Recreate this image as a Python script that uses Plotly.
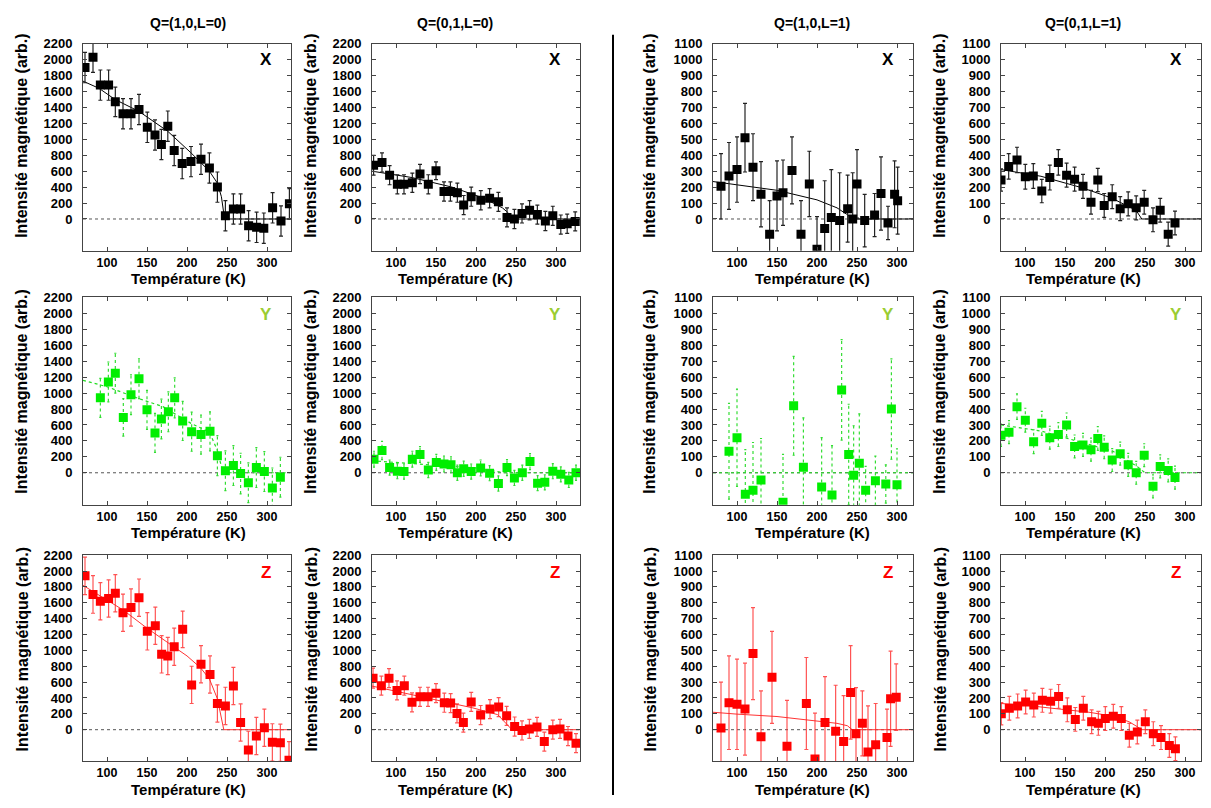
import plotly.graph_objects as go

W, H = 1211, 808

# ---------------- data ----------------
# Q=(1,0,L=0)
T_10L0_X = [72.5, 82.5, 91.7, 102, 110.4, 120, 130, 140, 150.4, 160, 168, 176, 184, 194, 205, 217.5, 228, 238, 248, 258, 267, 277, 287, 296, 307, 317.5, 328]
I_10L0_X = [1900, 2030, 1680, 1680, 1470, 1320, 1320, 1375, 1150, 1055, 935, 1165, 860, 695, 720, 750, 640, 400, 40, 125, 125, -85, -105, -115, 140, -25, 190]
E_10L0_X = [190, 190, 190, 190, 185, 190, 190, 190, 190, 190, 190, 190, 190, 190, 190, 190, 190, 190, 190, 190, 190, 190, 190, 190, 190, 190, 190]
FT_10L0_X = [70, 90, 110, 140, 176, 205, 228, 238, 243, 247, 330]
FI_10L0_X = [1730, 1640, 1500, 1350, 1100, 830, 600, 450, 280, 0, 0]

T_10L0_Y = [91.7, 101.7, 110.4, 120.4, 130, 140, 150, 160, 168, 176.7, 184.6, 194.6, 205.8, 217.5, 228.75, 238, 248, 258, 267, 276.7, 286.7, 296.7, 306.7, 316.7]
I_10L0_Y = [940, 1140, 1250, 695, 980, 1180, 790, 500, 675, 765, 940, 650, 515, 480, 520, 215, 25, 90, -10, -125, 65, 15, -190, -55]
E_10L0_Y = [245, 250, 250, 235, 250, 250, 245, 245, 250, 250, 250, 245, 245, 245, 245, 250, 250, 250, 255, 250, 250, 250, 250, 250]
FT_10L0_Y = [70, 100, 140, 170, 205, 228, 238, 245, 330]
FI_10L0_Y = [1160, 1080, 930, 830, 620, 510, 280, 0, 0]

T_10L0_Z = [72.5, 82.5, 91.7, 102, 110.4, 120, 130, 140, 150.4, 160.4, 168.3, 176, 184, 194.6, 205.8, 217.5, 228.75, 238, 248, 258, 267, 276.7, 286.7, 296.7, 306.7, 316.7, 327.5]
I_10L0_Z = [1940, 1705, 1620, 1655, 1720, 1475, 1540, 1665, 1240, 1310, 950, 930, 1045, 1265, 565, 825, 695, 330, 300, 550, 90, -255, -80, 25, -160, -165, -385]
E_10L0_Z = [237, 237, 235, 235, 235, 235, 235, 235, 235, 235, 235, 235, 235, 230, 235, 235, 235, 235, 235, 235, 235, 235, 235, 235, 235, 235, 235]
FT_10L0_Z = [70, 120, 150, 175, 200, 217, 228, 238, 242, 246, 330]
FI_10L0_Z = [1820, 1510, 1280, 1100, 930, 780, 640, 390, 180, 0, 0]

# Q=(0,1,L=0)
T_01L0_X = [72, 82.5, 92, 101.7, 110, 120.4, 130, 140.4, 150, 160, 168, 176.7, 184.6, 194, 206, 217, 228, 238.75, 248, 257.5, 267, 276.7, 286.7, 296, 306, 314, 324]
I_01L0_X = [675, 710, 550, 435, 435, 455, 565, 435, 605, 345, 345, 330, 175, 280, 235, 260, 215, 20, 0, 70, 110, 55, -25, 40, -70, -60, -30]
E_01L0_X = [125, 120, 120, 120, 120, 120, 120, 120, 112, 120, 120, 120, 120, 120, 120, 120, 120, 120, 120, 120, 120, 120, 120, 120, 120, 120, 120]
FT_01L0_X = [70, 120, 170, 210, 233, 240, 245, 330]
FI_01L0_X = [600, 520, 400, 260, 140, 80, 0, 0]

T_01L0_Y = [72.5, 82.5, 92, 101.7, 110, 120.4, 130, 140.4, 150.4, 160, 168.75, 176.7, 184.6, 194, 205.8, 217, 228, 238.75, 248, 257.9, 267.5, 277, 286, 296, 306, 316, 325]
I_01L0_Y = [170, 280, 65, 20, 15, 170, 230, 35, 130, 110, 100, 0, 50, 15, 60, -5, -135, 65, -65, 0, 140, -130, -120, 20, -20, -90, 0]
E_01L0_Y = [100, 115, 95, 95, 95, 100, 100, 95, 100, 100, 100, 95, 95, 95, 100, 95, 95, 100, 95, 95, 100, 95, 95, 95, 95, 95, 95]
FT_01L0_Y = [70, 150, 200, 235, 330]
FI_01L0_Y = [150, 100, 60, 0, 0]

T_01L0_Z = [71.3, 81.7, 91.25, 101.25, 110.4, 120, 130, 140, 150, 160.4, 168.3, 176.25, 184.2, 194, 205.8, 217.5, 228.3, 238.3, 248.3, 257.5, 266.7, 276.25, 285.4, 296, 305, 315, 325]
I_01L0_Z = [650, 555, 650, 495, 555, 345, 415, 415, 460, 340, 335, 205, 90, 350, 185, 260, 285, 175, 40, -10, 10, 35, -150, 0, 10, -80, -170]
E_01L0_Z = [125, 120, 120, 120, 120, 120, 120, 120, 120, 120, 120, 120, 120, 120, 120, 120, 120, 120, 120, 120, 120, 120, 120, 120, 120, 120, 120]
FT_01L0_Z = [70, 110, 150, 196, 227, 240, 245, 330]
FI_01L0_Z = [550, 465, 380, 275, 190, 60, 0, 0]

# Q=(1,0,L=1)
T_10L1_X = [80, 90, 100, 110, 120, 130, 140.8, 150, 157.5, 168.75, 180, 190.4, 200, 209.6, 217.9, 228.3, 238.3, 244.6, 250, 259.6, 272, 280, 288.75, 297, 300.8]
I_10L1_X = [205, 270, 310, 510, 325, 155, -95, 145, 165, 305, -95, 220, -190, -60, 10, -10, 65, 0, 220, -10, 25, 160, -25, 155, 115]
E_10L1_X = [205, 210, 205, 215, 210, 205, 210, 220, 205, 210, 210, 205, 205, 300, 300, 300, 210, 290, 215, 165, 135, 230, 105, 210, 210]
FT_10L1_X = [70, 100, 150, 200, 225, 237, 245, 320]
FI_10L1_X = [235, 215, 180, 120, 70, 30, 0, 0]

T_10L1_Y = [90, 100, 110.4, 120, 130, 157.5, 170.8, 183, 205.8, 218.75, 230.8, 239.6, 245.8, 252.9, 260.8, 273, 286, 293, 300]
I_10L1_Y = [135, 220, -135, -110, -45, -185, 420, 35, -90, -140, 520, 115, -15, 60, -110, -50, -70, 400, -75]
E_10L1_Y = [300, 305, 280, 300, 260, 300, 310, 310, 310, 310, 315, 315, 310, 310, 150, 155, 120, 315, 225]
FT_10L1_Y = [70, 320]
FI_10L1_Y = [0, 0]

T_10L1_Z = [80, 90, 100, 110, 120, 130, 143.75, 162.5, 186.7, 197.5, 210, 223.3, 233.3, 242, 248.75, 256.7, 263.75, 273.3, 287.5, 292, 299]
I_10L1_Z = [10, 170, 160, 130, 480, -45, 330, -105, 165, -185, 45, -10, -75, 235, -25, 40, -140, -95, -50, 195, 205]
E_10L1_Z = [290, 295, 285, 290, 290, 290, 290, 290, 290, 290, 290, 290, 290, 295, 290, 205, 290, 260, 180, 300, 210]
FT_10L1_Z = [70, 100, 150, 200, 225, 238, 244, 320]
FI_10L1_Z = [110, 98, 83, 56, 40, 25, 0, 0]

# Q=(0,1,L=1)
T_01L1_X = [70, 79.6, 90, 100.4, 110.4, 121, 131, 141.7, 152, 162, 172.5, 182.5, 191, 199, 209, 219, 229, 239, 249, 260, 269, 279, 287.5]
I_01L1_X = [245, 330, 370, 265, 270, 175, 260, 355, 275, 250, 205, 105, 245, 85, 140, 65, 95, 70, 105, -5, 55, -95, -25]
E_01L1_X = [70, 80, 80, 78, 78, 73, 78, 80, 75, 75, 75, 75, 73, 75, 75, 75, 75, 75, 75, 75, 75, 75, 75]
FT_01L1_X = [70, 120, 172, 208, 233, 240, 246, 320]
FI_01L1_X = [310, 268, 195, 132, 69, 45, 0, 0]

T_01L1_Y = [70, 80, 90, 100.4, 110.8, 121, 131, 141.7, 152, 162, 172.5, 182.5, 191, 199, 209, 219, 229, 239, 249, 260, 269, 279, 287.5]
I_01L1_Y = [235, 255, 415, 330, 195, 310, 220, 240, 300, 165, 175, 145, 215, 160, 80, 120, 50, 0, 110, -85, 40, 15, -30]
E_01L1_Y = [70, 72, 80, 75, 75, 75, 72, 75, 75, 72, 72, 72, 75, 72, 72, 72, 72, 72, 72, 72, 72, 72, 72]
FT_01L1_Y = [70, 120, 170, 210, 240, 250, 320]
FI_01L1_Y = [300, 262, 192, 135, 40, 0, 0]

T_01L1_Z = [70.4, 80.4, 90.8, 100.8, 111, 121.7, 132, 142, 152.9, 162.9, 172.9, 183.3, 191.7, 200.4, 210.4, 220.4, 230.4, 240.4, 250.4, 260.4, 270, 280.4, 288]
I_01L1_Z = [100, 135, 150, 175, 155, 185, 180, 210, 125, 65, 135, 50, 40, 70, 85, 70, -35, -15, 50, -25, -50, -100, -120]
E_01L1_Z = [70, 75, 75, 75, 75, 75, 75, 75, 75, 75, 75, 75, 75, 75, 75, 75, 75, 75, 75, 75, 75, 75, 75]
FT_01L1_Z = [70, 100, 125, 150, 180, 210, 230, 240, 246, 320]
FI_01L1_Z = [165, 155, 140, 128, 110, 85, 50, 20, 0, 0]

col_titles = ["Q=(1,0,L=0)", "Q=(0,1,L=0)", "Q=(1,0,L=1)", "Q=(0,1,L=1)"]
comp_labels = ["X", "Y", "Z"]
x_ticks = [100, 150, 200, 250, 300]
y_ticks_L0 = [0, 200, 400, 600, 800, 1000, 1200, 1400, 1600, 1800, 2000, 2200]
y_ticks_L1 = [0, 100, 200, 300, 400, 500, 600, 700, 800, 900, 1000, 1100]

panels = {
    (0, 0): (T_10L0_X, I_10L0_X, E_10L0_X, FT_10L0_X, FI_10L0_X),
    (1, 0): (T_10L0_Y, I_10L0_Y, E_10L0_Y, FT_10L0_Y, FI_10L0_Y),
    (2, 0): (T_10L0_Z, I_10L0_Z, E_10L0_Z, FT_10L0_Z, FI_10L0_Z),
    (0, 1): (T_01L0_X, I_01L0_X, E_01L0_X, FT_01L0_X, FI_01L0_X),
    (1, 1): (T_01L0_Y, I_01L0_Y, E_01L0_Y, FT_01L0_Y, FI_01L0_Y),
    (2, 1): (T_01L0_Z, I_01L0_Z, E_01L0_Z, FT_01L0_Z, FI_01L0_Z),
    (0, 2): (T_10L1_X, I_10L1_X, E_10L1_X, FT_10L1_X, FI_10L1_X),
    (1, 2): (T_10L1_Y, I_10L1_Y, E_10L1_Y, FT_10L1_Y, FI_10L1_Y),
    (2, 2): (T_10L1_Z, I_10L1_Z, E_10L1_Z, FT_10L1_Z, FI_10L1_Z),
    (0, 3): (T_01L1_X, I_01L1_X, E_01L1_X, FT_01L1_X, FI_01L1_X),
    (1, 3): (T_01L1_Y, I_01L1_Y, E_01L1_Y, FT_01L1_Y, FI_01L1_Y),
    (2, 3): (T_01L1_Z, I_01L1_Z, E_01L1_Z, FT_01L1_Z, FI_01L1_Z),
}

# ---------------- layout geometry (pixels) ----------------
cols_px = [(83, 291), (372, 580), (713, 913), (1001, 1201)]
rows_px = [(37, 246), (293, 502), (553, 761)]
x_ranges = [[70, 330], [70, 330], [70, 320], [70, 320]]
y_ranges = [[-400, 2200], [-400, 2200], [-200, 1100], [-200, 1100]]
title_cx = [188, 455, 812, 1083]
ytitle_x = [22, 311, 650, 940]
ytitle_y = [130, 388, 648]
xtitle_y = [274, 530, 789]
comp_pos_y = [53, 310, 570]
comp_colors = ["#000000", "#9ACD32", "#FF0000"]

mark_col = {0: "#000000", 1: "#00EE00", 2: "#FF0000"}
err_col = {0: "#222222", 1: "#33DD33", 2: "rgba(255,40,40,0.8)"}
fit_style = {0: dict(color="#000000", width=1, dash="solid"),
             1: dict(color="#22DD22", width=1.2, dash="dot"),
             2: dict(color="#FF3333", width=1, dash="solid")}

FONT = "Liberation Sans, Arial, sans-serif"


def px2fx(p):
    return p / W


def px2fy(p):
    return 1 - p / H


def ann(text, px, py, size, color="black", angle=0):
    return dict(text=text, x=px2fx(px), y=px2fy(py), xref="paper", yref="paper",
                xanchor="center", yanchor="middle", showarrow=False, textangle=angle,
                font=dict(family=FONT, size=size, color=color, weight="bold"))


fig = go.Figure()
layout = dict(width=W, height=H, margin=dict(l=0, r=0, t=0, b=0, pad=0), autosize=False,
              paper_bgcolor="white", plot_bgcolor="white", showlegend=False,
              font=dict(family=FONT, color="black"))
annotations = []
shapes = []

idx = 0
for r in range(3):
    for c in range(4):
        idx += 1
        xa = "x" if idx == 1 else f"x{idx}"
        ya = "y" if idx == 1 else f"y{idx}"
        T, I, E, FT, FI = panels[(r, c)]
        # zero reference line
        fig.add_trace(go.Scatter(x=[x_ranges[c][0], x_ranges[c][1]], y=[0, 0], mode="lines",
                                 line=dict(color="#555555", width=1, dash="dot"),
                                 xaxis=xa, yaxis=ya, hoverinfo="skip"))
        # fit
        fig.add_trace(go.Scatter(x=FT, y=FI, mode="lines", line=fit_style[r],
                                 xaxis=xa, yaxis=ya, hoverinfo="skip"))
        if r == 1:
            # dotted error bars built from the data arrays
            cap = 1.3
            ex, ey = [], []
            for t, v, e in zip(T, I, E):
                ex += [t, t, None, t - cap, t + cap, None, t - cap, t + cap, None]
                ey += [v - e, v + e, None, v + e, v + e, None, v - e, v - e, None]
            fig.add_trace(go.Scatter(x=ex, y=ey, mode="lines",
                                     line=dict(color=err_col[r], width=1.2, dash="dot"),
                                     xaxis=xa, yaxis=ya, hoverinfo="skip"))
            fig.add_trace(go.Scatter(x=T, y=I, mode="markers",
                                     marker=dict(symbol="square", size=9, color=mark_col[r],
                                                 line=dict(width=0)),
                                     xaxis=xa, yaxis=ya))
        else:
            fig.add_trace(go.Scatter(x=T, y=I, mode="markers",
                                     marker=dict(symbol="square", size=9, color=mark_col[r],
                                                 line=dict(width=0)),
                                     error_y=dict(type="data", array=E, visible=True,
                                                  color=err_col[r], thickness=1.2, width=2),
                                     xaxis=xa, yaxis=ya))
        x0, x1 = cols_px[c]
        y0, y1 = rows_px[r]
        axis_common = dict(showline=True, linecolor="#444444", linewidth=1, mirror="allticks",
                           ticks="inside", ticklen=4, tickcolor="#444444", showgrid=False,
                           zeroline=False)
        layout["xaxis" if idx == 1 else f"xaxis{idx}"] = dict(
            domain=[px2fx(x0), px2fx(x1)], range=x_ranges[c], anchor=ya,
            tickvals=x_ticks, ticklabelstandoff=0,
            tickfont=dict(family=FONT, size=12.5, color="black", weight="bold"), **axis_common)
        layout["yaxis" if idx == 1 else f"yaxis{idx}"] = dict(
            domain=[px2fy(y1), px2fy(y0)], range=y_ranges[c], anchor=xa,
            tickvals=(y_ticks_L0 if c < 2 else y_ticks_L1), ticklabelstandoff=7,
            tickfont=dict(family=FONT, size=13, color="black", weight="bold"), **axis_common)
        annotations.append(ann(comp_labels[r], x1 - 25, comp_pos_y[r], 17, comp_colors[r]))
        annotations.append(ann("Température (K)", title_cx[c], xtitle_y[r], 15))
        annotations.append(ann("Intensité magnétique (arb.)", ytitle_x[c], ytitle_y[r], 16, angle=-90))

for c in range(4):
    annotations.append(ann(col_titles[c], title_cx[c], 16, 14))

shapes.append(dict(type="line", xref="paper", yref="paper", x0=px2fx(613), x1=px2fx(613),
                   y0=px2fy(28), y1=px2fy(795), line=dict(color="black", width=2)))

layout["annotations"] = annotations
layout["shapes"] = shapes
fig.update_layout(**layout)
fig.write_html("out.html", config={"displayModeBar": False},
               post_script="document.body.style.margin='0px';document.body.style.overflow='hidden';")
